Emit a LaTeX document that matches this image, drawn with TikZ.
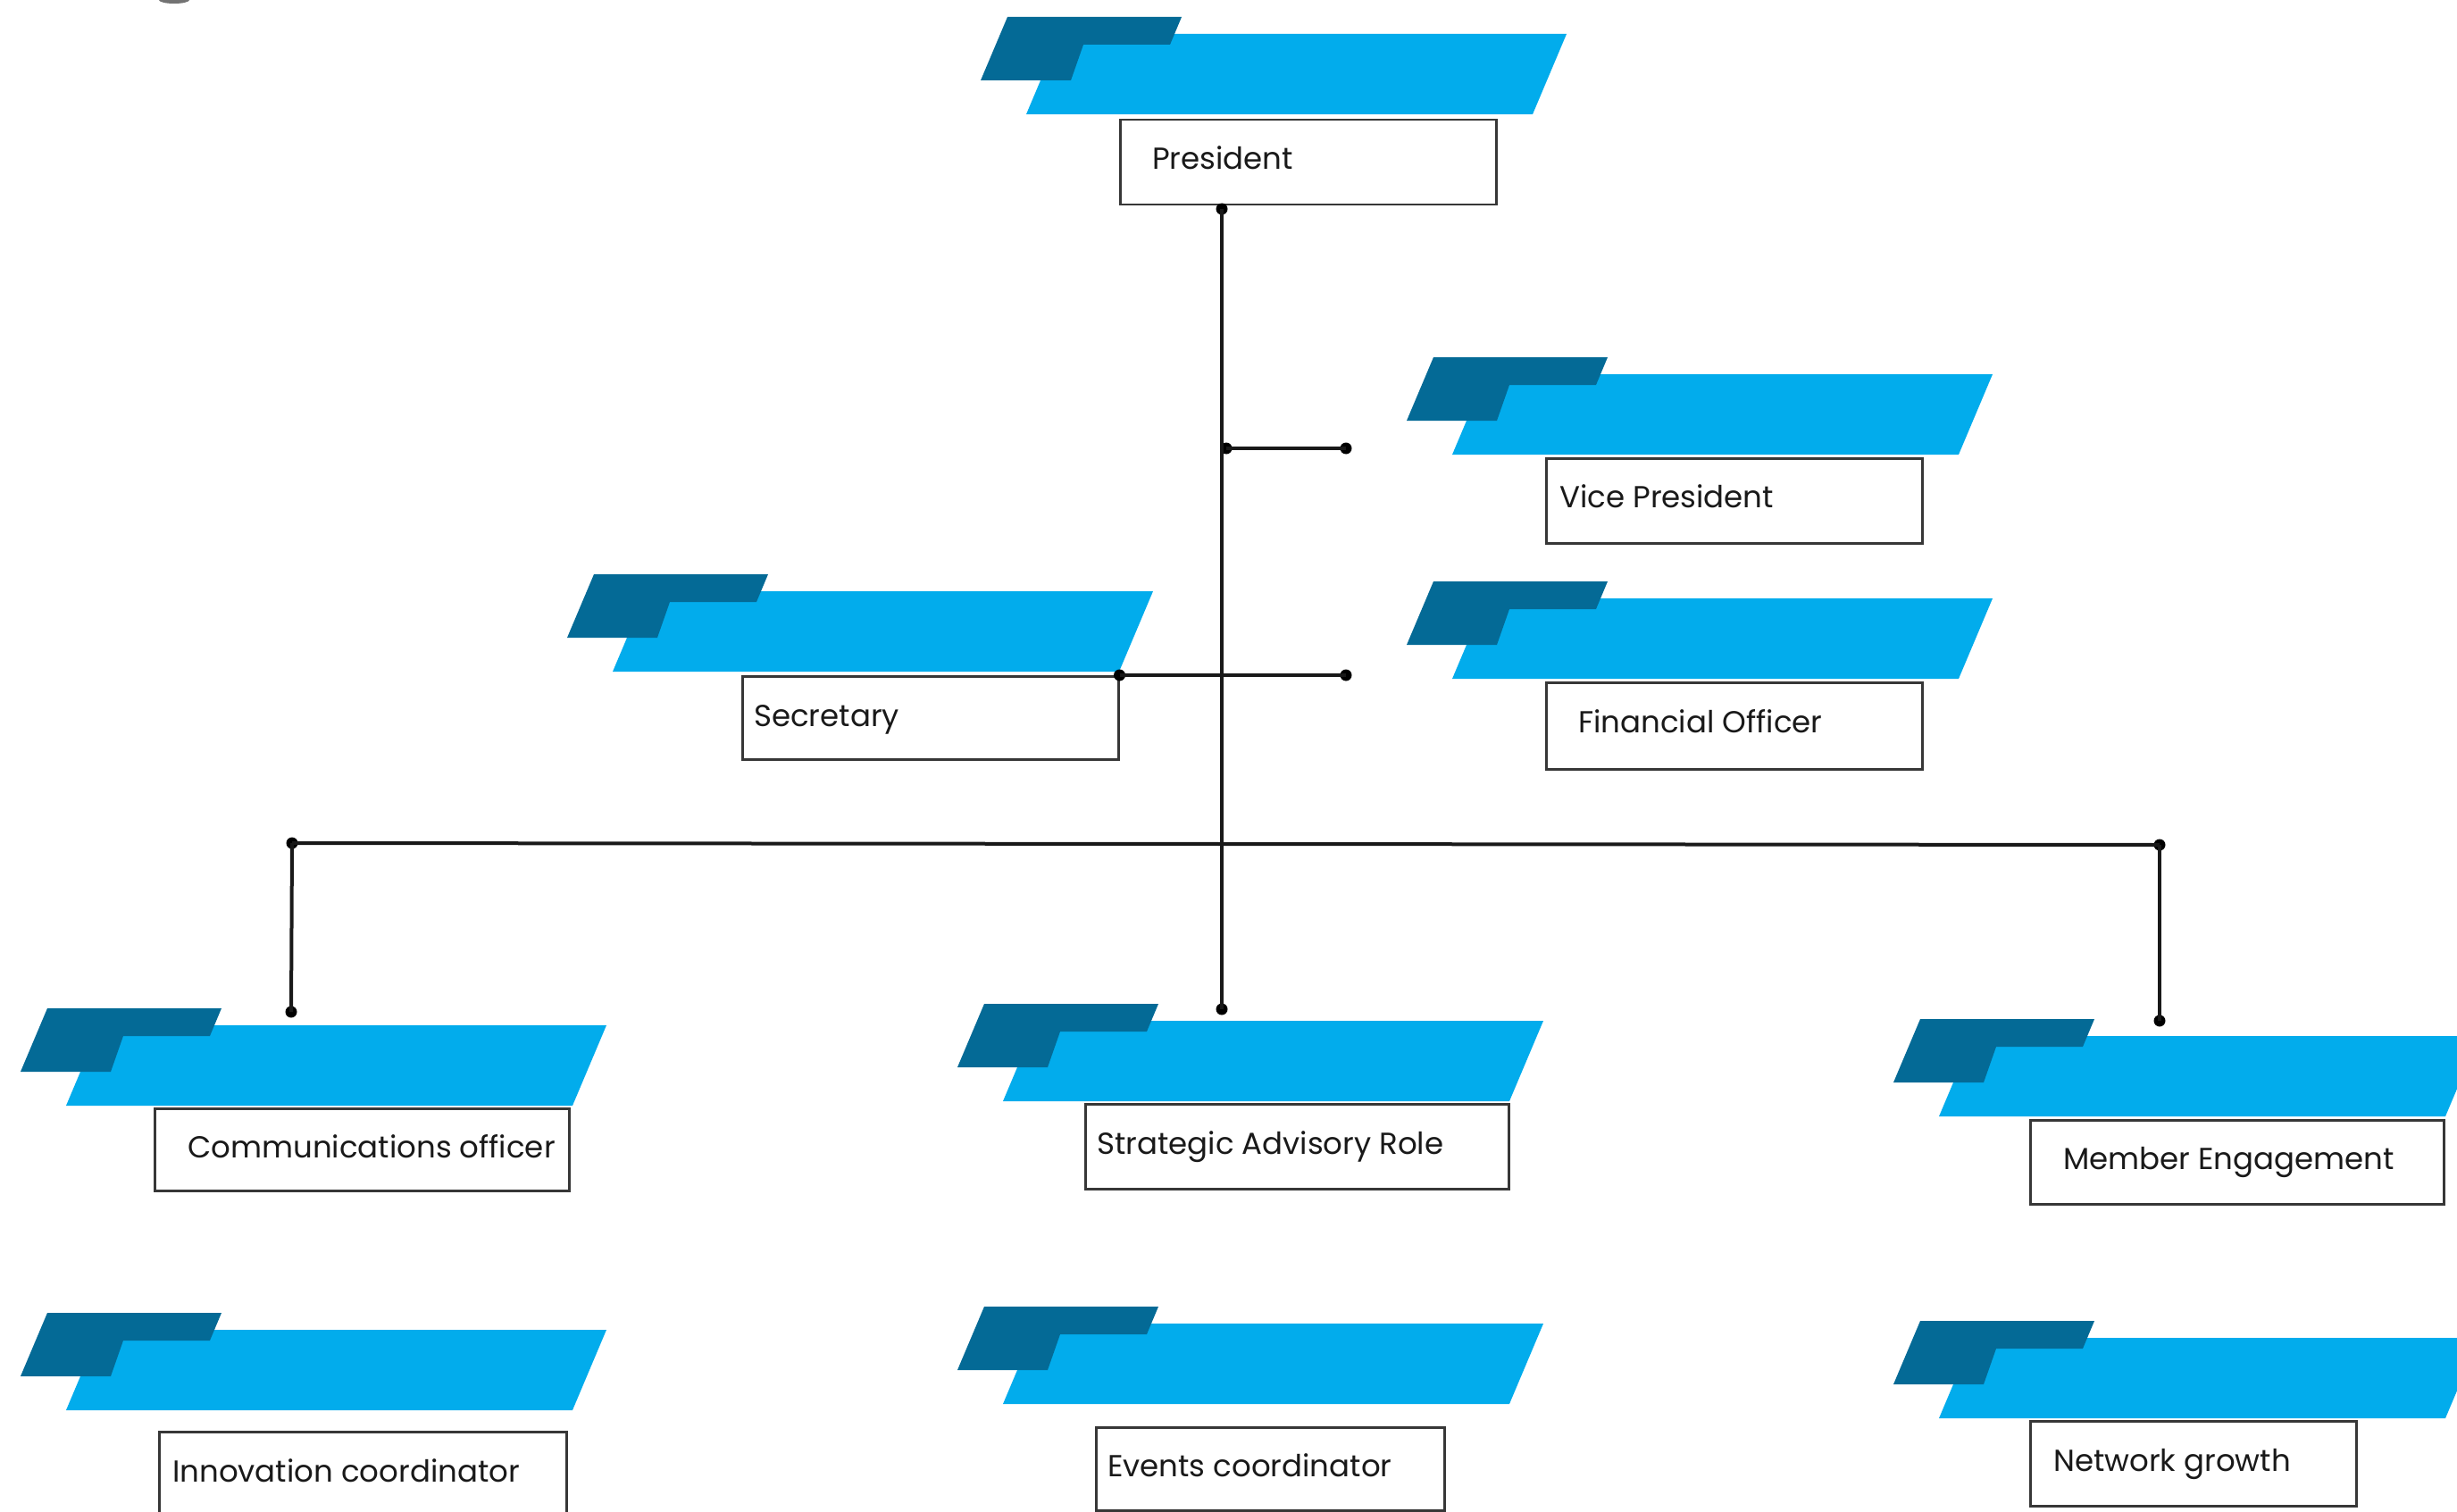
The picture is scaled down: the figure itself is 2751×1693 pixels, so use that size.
\documentclass[tikz,border=0pt]{standalone}
\usepackage{fontspec}
\setmainfont{Poppins}
\definecolor{lightbar}{RGB}{2,172,236}
\definecolor{darkbar}{RGB}{4,106,150}
\definecolor{boxline}{RGB}{55,55,55}
\definecolor{labeltext}{RGB}{25,25,25}
\tikzset{
  lbar/.style={fill=lightbar},
  dbar/.style={fill=darkbar},
  rolebox/.style={draw=boxline, line width=2.5pt, fill=white, rectangle, inner sep=0pt, anchor=north west},
  rolelabel/.style={anchor=base west, inner sep=0pt, text=labeltext, font=\fontsize{34}{40}\selectfont},
  link/.style={line width=4pt, draw=black!90},
  jdot/.style={circle, fill=black, inner sep=0pt, minimum size=13pt}
}
\newcommand{\flagbar}[2]{%
  \begin{scope}[shift={(#1,#2)}]
    \fill[lbar] (0,0) -- (567,0) -- (605,-90) -- (38,-90) -- cycle;
    \fill[dbar] (-51,-38) -- (50,-38) -- (64,-78) -- (161,-78) -- (174,-109) -- (-21,-109) -- cycle;
  \end{scope}}
\begin{document}
\begin{tikzpicture}[x=1pt,y=-1pt]
\useasboundingbox (0,0) rectangle (2751,1693);
\clip (0,0) rectangle (2751,1693);
\fill[white] (0,0) rectangle (2751,1693);
\fill[black!55] (195,0) ellipse [x radius=17, y radius=4];

% coloured bars
\flagbar{1149}{128}
\flagbar{1626}{509}
\flagbar{686}{752}
\flagbar{1626}{760}
\flagbar{74}{1238}
\flagbar{1123}{1233}
\flagbar{2171}{1250}
\flagbar{74}{1579}
\flagbar{1123}{1572}
\flagbar{2171}{1588}

% boxes
\node[rolebox, minimum width=421pt, minimum height=95pt] (pres) at (1253,133) {};
\node[rolebox, minimum width=421pt, minimum height=95pt] (vp) at (1730,512) {};
\node[rolebox, minimum width=421pt, minimum height=93pt] (sec) at (830,756) {};
\node[rolebox, minimum width=421pt, minimum height=97pt] (fo) at (1730,763) {};
\node[rolebox, minimum width=464pt, minimum height=92pt] (comm) at (172,1240) {};
\node[rolebox, minimum width=474pt, minimum height=95pt] (strat) at (1214,1235) {};
\node[rolebox, minimum width=463pt, minimum height=94pt] (memb) at (2272,1253) {};
\node[rolebox, minimum width=456pt, minimum height=98pt] (innov) at (177,1602) {};
\node[rolebox, minimum width=390pt, minimum height=93pt] (events) at (1226,1597) {};
\node[rolebox, minimum width=365pt, minimum height=95pt] (netw) at (2272,1590) {};

% labels
\node[rolelabel] (tpres) at (1290,190) {President};
\node[rolelabel] (tvp) at (1746,568) {Vice President};
\node[rolelabel] (tsec) at (844,813) {Secretary};
\node[rolelabel] (tfo) at (1767,820) {Financial Officer};
\node[rolelabel] (tcomm) at (210,1296) {Communications officer};
\node[rolelabel] (tstrat) at (1228,1292) {Strategic Advisory Role};
\node[rolelabel] (tmemb) at (2310,1309) {Member Engagement};
\node[rolelabel] (tinnov) at (193,1659) {Innovation coordinator};
\node[rolelabel] (tevents) at (1240,1653) {Events coordinator};
\node[rolelabel] (tnetw) at (2299,1647) {Network growth};

% junction dots
\node[jdot] (d0) at (1368,234) {};
\node[jdot] (dstrat) at (1368,1130) {};
\node[jdot] (dvp1) at (1373,502) {};
\node[jdot] (dvp2) at (1507,502) {};
\node[jdot] (dsec1) at (sec.north east) {};
\node[jdot] (dsec2) at (1507,756) {};
\node[jdot] (dl) at (327,944) {};
\node[jdot] (dr) at (2418,946) {};
\node[jdot] (dcomm) at (326,1133) {};
\node[jdot] (dmemb) at (2418,1143) {};

% connectors
\draw[link] (d0.center) -- (dstrat.center);
\draw[link] (dvp1.center) -- (dvp2.center);
\draw[link] (dsec1.center) -- (dsec2.center);
\draw[link] (dl.center) -- (dr.center);
\draw[link] (dl.center) -- (dcomm.center);
\draw[link] (dr.center) -- (dmemb.center);
\end{tikzpicture}
\end{document}
